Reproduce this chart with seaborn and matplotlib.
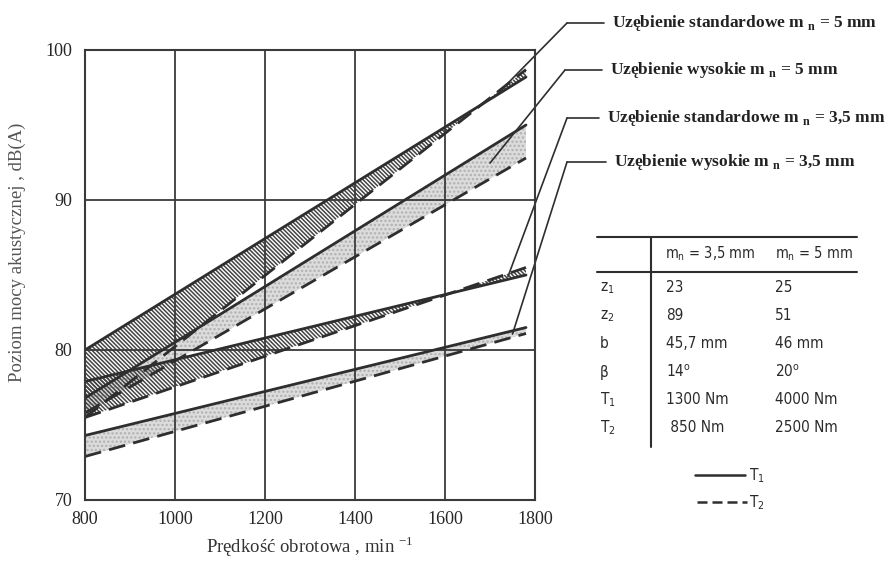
import matplotlib
matplotlib.use("Agg")
import matplotlib.pyplot as plt
from matplotlib.lines import Line2D
import numpy as np
import pandas as pd
import seaborn as sns

# Rotational speed range covered by the measurements (min^-1)
speed = [800, 1780]

# Acoustic power level, dB(A), for torque T1 (solid) and T2 (dashed)
std5_T1 = [80.0, 98.2]
std5_T2 = [75.5, 98.7]
high5_T1 = [76.8, 95.0]
high5_T2 = [75.8, 92.8]
std35_T1 = [77.9, 85.0]
std35_T2 = [75.5, 85.5]
high35_T1 = [74.3, 81.5]
high35_T2 = [72.9, 81.1]

gear_labels = [
    "Uzębienie standardowe m $_{\\mathregular{n}}$ = 5 mm",
    "Uzębienie wysokie m $_{\\mathregular{n}}$ = 5 mm",
    "Uzębienie standardowe m $_{\\mathregular{n}}$ = 3,5 mm",
    "Uzębienie wysokie m $_{\\mathregular{n}}$ = 3,5 mm",
]

x_ticks = [800, 1000, 1200, 1400, 1600, 1800]
y_ticks = [70, 80, 90, 100]

# Gear parameter table
table_header = ["m$_{\\mathregular{n}}$ = 3,5 mm", "m$_{\\mathregular{n}}$ = 5 mm"]
table_rows = ["z$_{\\mathregular{1}}$", "z$_{\\mathregular{2}}$", "b", "β",
              "T$_{\\mathregular{1}}$", "T$_{\\mathregular{2}}$"]
table_col1 = ["23", "89", "45,7 mm", "14$^{\\mathregular{o}}$", "1300 Nm", " 850 Nm"]
table_col2 = ["25", "51", "46 mm", "20$^{\\mathregular{o}}$", "4000 Nm", "2500 Nm"]

sns.set_theme(style="white")
plt.rcParams["font.family"] = ["Liberation Serif", "DejaVu Serif"]
plt.rcParams["hatch.linewidth"] = 1.1

W, H = 890, 562
fig = plt.figure(figsize=(W / 100, H / 100), dpi=100)
fig.patch.set_facecolor("white")
ax = fig.add_axes([85 / W, 62 / H, 450 / W, 450 / H])

ink = "#2e2e2e"

bands = [
    (std5_T1, std5_T2, "dark"),
    (high5_T1, high5_T2, "light"),
    (std35_T1, std35_T2, "dark"),
    (high35_T1, high35_T2, "light"),
]

rows = []
for name, (t1, t2, _) in zip(gear_labels, bands):
    for s, v1, v2 in zip(speed, t1, t2):
        rows.append({"speed": s, "level": v1, "gear": name, "torque": "T1"})
        rows.append({"speed": s, "level": v2, "gear": name, "torque": "T2"})
df = pd.DataFrame(rows)

# Shaded bands between the T1 and T2 lines
for t1, t2, kind in bands:
    if kind == "dark":
        ax.fill_between(speed, t1, t2, facecolor="none", edgecolor="#444444",
                        hatch="\\\\\\\\\\\\\\\\", linewidth=0, zorder=1)
    else:
        ax.fill_between(speed, t1, t2, facecolor="#dcdcdc", edgecolor="#b0b0b0",
                        hatch="....", linewidth=0, zorder=1)

for name in gear_labels:
    sub = df[df["gear"] == name]
    sns.lineplot(data=sub[sub["torque"] == "T1"], x="speed", y="level", ax=ax,
                 color=ink, lw=2.0, zorder=3, legend=False)
    sns.lineplot(data=sub[sub["torque"] == "T2"], x="speed", y="level", ax=ax,
                 color=ink, lw=2.0, linestyle=(0, (6, 3)), zorder=3, legend=False)

ax.set_xlim(800, 1800)
ax.set_ylim(70, 100)
ax.set_xticks(x_ticks)
ax.set_yticks(y_ticks)
ax.set_xticklabels([str(t) for t in x_ticks], fontsize=13, color="#262626")
ax.set_yticklabels([str(t) for t in y_ticks], fontsize=13, color="#262626")
ax.tick_params(axis="both", length=0)
ax.tick_params(axis="x", pad=8)
ax.tick_params(axis="y", pad=9)
ax.grid(True, color="#3a3a3a", lw=1.3, zorder=2)
ax.set_axisbelow(False)
for sp in ax.spines.values():
    sp.set_color("#3a3a3a")
    sp.set_linewidth(1.5)
    sp.set_zorder(4)

ax.set_xlabel("Prędkość obrotowa , min $^{\\mathregular{-1}}$", fontsize=13.5,
              color="#333333")
ax.xaxis.set_label_coords(0.5, -0.075)
ax.set_ylabel("Poziom mocy akustycznej , dB(A)", fontsize=13.5, color="#555555")
ax.yaxis.set_label_coords(-0.13, 0.55)


def fig_xy(px, py):
    return px / W, 1 - py / H


# Callout labels with leader lines pointing into each band
callouts = [
    (23, 612, 567, 1720, 0),
    (70, 610, 565, 1700, 1),
    (118, 607, 567, 1740, 2),
    (162, 614, 567, 1750, 3),
]
for py, tx, cx, s_target, idx in callouts:
    t1, t2, _ = bands[idx]
    lvl = np.interp(s_target, speed, (np.array(t1) + np.array(t2)) / 2)
    fig.text(*fig_xy(tx, py), gear_labels[idx], fontsize=12.5, fontweight="bold",
             color="#222222", ha="left", va="center")
    fig.add_artist(Line2D([cx / W, (tx - 8) / W], [1 - py / H, 1 - py / H],
                          color=ink, lw=1.2))
    ax.annotate("", xy=(s_target, lvl), xycoords="data",
                xytext=fig_xy(cx, py), textcoords="figure fraction",
                arrowprops=dict(arrowstyle="-", color=ink, lw=1.2,
                                shrinkA=0, shrinkB=0),
                annotation_clip=False)

# Parameter table
tfont = dict(family=["Liberation Sans Narrow", "DejaVu Sans"], fontstretch="condensed",
             color="#2a2a2a")
fig.add_artist(Line2D([597 / W, 857 / W], [1 - 237 / H] * 2, color=ink, lw=1.5))
fig.add_artist(Line2D([597 / W, 857 / W], [1 - 272 / H] * 2, color=ink, lw=1.5))
fig.add_artist(Line2D([651 / W, 651 / W], [1 - 237 / H, 1 - 447 / H], color=ink, lw=1.5))
fig.text(*fig_xy(665, 254), table_header[0], fontsize=10.5, ha="left", va="center", **tfont)
fig.text(*fig_xy(775, 254), table_header[1], fontsize=10.5, ha="left", va="center", **tfont)
row_y = [288, 316, 344, 372, 400, 428]
for y, lab, c1, c2 in zip(row_y, table_rows, table_col1, table_col2):
    fig.text(*fig_xy(600, y), lab, fontsize=11, ha="left", va="center", **tfont)
    fig.text(*fig_xy(666, y), c1, fontsize=11, ha="left", va="center", **tfont)
    fig.text(*fig_xy(775, y), c2, fontsize=11, ha="left", va="center", **tfont)

# Line-style key for the two torques
fig.add_artist(Line2D([695 / W, 745 / W], [1 - 475 / H] * 2, color=ink, lw=1.8))
fig.add_artist(Line2D([697 / W, 747 / W], [1 - 502 / H] * 2, color=ink, lw=1.8,
                      linestyle=(0, (4, 2))))
fig.text(*fig_xy(749, 476), "T$_{\\mathregular{1}}$", fontsize=11, ha="left",
         va="center", **tfont)
fig.text(*fig_xy(749, 503), "T$_{\\mathregular{2}}$", fontsize=11, ha="left",
         va="center", **tfont)

fig.savefig("out.png", dpi=100, facecolor="white")
